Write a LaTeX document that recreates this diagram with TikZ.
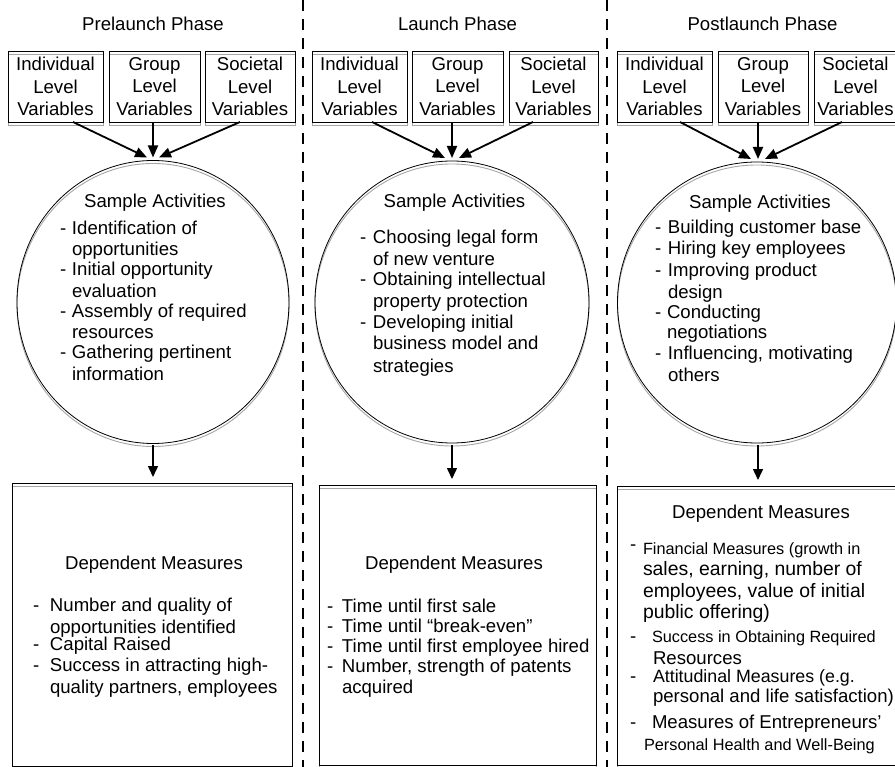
\documentclass[tikz,border=0pt]{standalone}
\usepackage{fontspec}
\setmainfont{Liberation Sans}
\usetikzlibrary{arrows.meta,shapes.geometric,backgrounds}
\newcommand\fsn{\fontsize{18.6}{22.5}\selectfont}
\newcommand\fsb{\fontsize{19.4}{22}\selectfont}
\newcommand\fss{\fontsize{16.3}{20}\selectfont}
\newcommand\fsa{\fontsize{17.8}{22}\selectfont}
\newcommand\bl[1]{\makebox[#1][l]{-}}
\newcommand\shrect[1]{\draw[shline] ([yshift=-3pt]#1.north west) rectangle ([yshift=-3pt]#1.south east);}
\begin{document}
\begin{tikzpicture}[x=1pt,y=-1pt,
  txt/.style={inner sep=0pt, outer sep=0pt, anchor=base west, font=\fsn},
  ctr/.style={inner sep=0pt, outer sep=0pt, anchor=base, font=\fsn},
  shline/.style={draw=black!35, line width=0.9pt},
  varbox/.style={draw, line width=0.8pt, align=center, font=\fsn, inner sep=0pt, outer sep=0pt, minimum height=71pt},
  actell/.style={draw, ellipse, line width=0.8pt, inner sep=0pt, outer sep=0pt},
  depbox/.style={draw, line width=0.8pt, inner sep=0pt, outer sep=0pt},
  conv/.style={line width=1.8pt, -{Triangle[length=12pt,width=10pt]}},
  down/.style={line width=1.5pt, -{Triangle[length=11pt,width=10pt]}},
  divider/.style={line width=2.7pt, dash pattern=on 11pt off 8pt}]
\useasboundingbox (0,0) rectangle (895,767);
\clip (0,0) rectangle (895,767);

% dividers
\coordinate (s1t) at (303,0); \coordinate (s1b) at (303,767);
\coordinate (s2t) at (607,0); \coordinate (s2b) at (607,767);
\draw[divider] (s1t) -- (s1b);
\draw[divider] (s2t) -- (s2b);

% headers
\node[ctr] (h1) at (153,31) {Prelaunch Phase};
\node[ctr] (h2) at (457.5,31) {Launch Phase};
\node[ctr] (h3) at (762.5,31) {Postlaunch Phase};

% variable boxes
\node[varbox, minimum width=95pt] (b11) at (55.5,86.5) {Individual\\Level\\Variables};
\node[varbox, minimum width=91pt] (b12) at (154.5,86.5) {Group\\Level\\Variables};
\node[varbox, minimum width=90pt] (b13) at (250,86.5) {Societal\\Level\\Variables};
\node[varbox, minimum width=95pt] (b21) at (359.5,86.5) {Individual\\Level\\Variables};
\node[varbox, minimum width=91pt] (b22) at (457.5,86.5) {Group\\Level\\Variables};
\node[varbox, minimum width=89pt] (b23) at (553.5,86.5) {Societal\\Level\\Variables};
\node[varbox, minimum width=95pt] (b31) at (664.5,86.5) {Individual\\Level\\Variables};
\node[varbox, minimum width=90pt] (b32) at (763,86.5) {Group\\Level\\Variables};
\node[varbox, minimum width=83pt] (b33) at (855.5,86.5) {Societal\\Level\\Variables};

% activity ellipses
\node[actell, minimum width=272pt, minimum height=283pt] (c1) at (153,302) {};
\node[actell, minimum width=274pt, minimum height=282pt] (c2) at (452,302) {};
\node[actell, minimum width=279pt, minimum height=281pt] (c3) at (757,302.5) {};

% dependent boxes
\node[depbox, minimum width=280pt, minimum height=283pt] (d1) at (152,624.5) {};
\node[depbox, minimum width=277pt, minimum height=280pt] (d2) at (457.5,625) {};
\node[depbox, minimum width=282pt, minimum height=279pt] (d3) at (758,625.5) {};

% grey offset outlines behind the shapes
\begin{scope}[on background layer]
\shrect{b11}\shrect{b12}\shrect{b13}
\shrect{b21}\shrect{b22}\shrect{b23}
\shrect{b31}\shrect{b32}\shrect{b33}
\shrect{d1}\shrect{d2}\shrect{d3}
\draw[shline] ([yshift=-3pt]c1.center) ellipse [x radius=136pt, y radius=141.5pt];
\draw[shline] ([yshift=-3pt]c2.center) ellipse [x radius=137pt, y radius=141pt];
\draw[shline] ([yshift=-3pt]c3.center) ellipse [x radius=139.5pt, y radius=140.5pt];
\end{scope}

% converging arrows
\draw[conv] ([xshift=17.5pt]b11.south) -- ([xshift=-6pt,yshift=3pt]c1.north);
\draw[conv] ([xshift=-1.5pt]b12.south) -- ([yshift=3pt]c1.north);
\draw[conv] ([xshift=-10pt]b13.south) -- ([xshift=6pt,yshift=3pt]c1.north);
\draw[conv] ([xshift=12.5pt]b21.south) -- ([xshift=-7pt,yshift=3pt]c2.north);
\draw[conv] ([xshift=-5.5pt]b22.south) -- ([yshift=3pt]c2.north);
\draw[conv] ([xshift=-20.5pt]b23.south) -- ([xshift=7pt,yshift=3pt]c2.north);
\draw[conv] ([xshift=15.5pt]b31.south) -- ([xshift=-6pt,yshift=3pt]c3.north);
\draw[conv] ([xshift=-5pt]b32.south) -- ([xshift=1pt,yshift=3pt]c3.north);
\draw[conv] ([xshift=-13.5pt]b33.south) -- ([xshift=8pt,yshift=3pt]c3.north);

% down arrows
\coordinate (e1) at (c1.south |- d1.north);
\draw[down] ([yshift=-2pt]c1.south) -- ([yshift=6pt]e1);
\coordinate (e2) at (c2.south |- d2.north);
\draw[down] ([yshift=-2pt]c2.south) -- ([yshift=6pt]e2);
\coordinate (f3) at ([xshift=1pt,yshift=-2pt]c3.south);
\coordinate (e3) at (f3 |- d3.north);
\draw[down] (f3) -- ([yshift=6pt]e3);

% ellipse 1 text
\node[ctr] (c1h) at (155,208) {Sample Activities};
\node[txt] (c1l1) at (60,235) {\bl{12pt}Identification of};
\node[txt] (c1l2) at (72,256) {opportunities};
\node[txt] (c1l3) at (60,276) {\bl{12pt}Initial opportunity};
\node[txt] (c1l4) at (72,298) {evaluation};
\node[txt] (c1l5) at (60,318) {\bl{12pt}Assembly of required};
\node[txt] (c1l6) at (72,339) {resources};
\node[txt] (c1l7) at (60,359) {\bl{12pt}Gathering pertinent};
\node[txt] (c1l8) at (72,381) {information};

% ellipse 2 text
\node[ctr] (c2h) at (454.5,208) {Sample Activities};
\node[txt] (c2l1) at (360,244) {\bl{13pt}Choosing legal form};
\node[txt] (c2l2) at (373,266) {of new venture};
\node[txt] (c2l3) at (360,286) {\bl{13pt}Obtaining intellectual};
\node[txt] (c2l4) at (373,308) {property protection};
\node[txt] (c2l5) at (360,329) {\bl{13pt}Developing initial};
\node[txt] (c2l6) at (373,350) {business model and};
\node[txt] (c2l7) at (373,373) {strategies};

% ellipse 3 text
\node[ctr] (c3h) at (760,209) {Sample Activities};
\node[txt] (c3l1) at (655,234) {\bl{13pt}Building customer base};
\node[txt] (c3l2) at (655,255) {\bl{13pt}Hiring key employees};
\node[txt] (c3l3) at (655,277) {\bl{13pt}Improving product};
\node[txt] (c3l4) at (668,299) {design};
\node[txt] (c3l5) at (655,319) {\bl{12pt}Conducting};
\node[txt] (c3l6) at (667,339) {negotiations};
\node[txt] (c3l7) at (655,360) {\bl{13pt}Influencing, motivating};
\node[txt] (c3l8) at (668,382) {others};

% dependent 1 text
\node[ctr] (d1h) at (154,569) {Dependent Measures};
\node[txt] (d1l1) at (33,611) {\bl{17pt}Number and quality of};
\node[txt] (d1l2) at (50,633) {opportunities identified};
\node[txt] (d1l3) at (33,650) {\bl{17pt}Capital Raised};
\node[txt] (d1l4) at (33,671) {\bl{17pt}Success in attracting high-};
\node[txt] (d1l5) at (50,693) {quality partners, employees};

% dependent 2 text
\node[ctr] (d2h) at (454,569) {Dependent Measures};
\node[txt] (d2l1) at (327,612) {\bl{15pt}Time until first sale};
\node[txt] (d2l2) at (327,632) {\bl{15pt}Time until “break-even”};
\node[txt] (d2l3) at (327,652) {\bl{15pt}Time until first employee hired};
\node[txt] (d2l4) at (327,672) {\bl{15pt}Number, strength of patents};
\node[txt] (d2l5) at (342,693) {acquired};

% dependent 3 text
\node[ctr] (d3h) at (761,518) {Dependent Measures};
\node[txt] (d3a0) at (630,550) {-};
\node[txt,font=\fss] (d3a1) at (643,554) {Financial Measures (growth in};
\node[txt,font=\fsb] (d3a2) at (643,575) {sales, earning, number of};
\node[txt,font=\fsb] (d3a3) at (643,597) {employees, value of initial};
\node[txt,font=\fsb] (d3a4) at (643,618) {public offering)};
\node[txt] (d3b0) at (630,642) {-};
\node[txt,font=\fss] (d3b1) at (652,642) {Success in Obtaining Required};
\node[txt] (d3b2) at (653,664) {Resources};
\node[txt] (d3c0) at (630,682) {-};
\node[txt,font=\fsa] (d3c1) at (653,682) {Attitudinal Measures (e.g.};
\node[txt] (d3c2) at (653,702) {personal and life satisfaction)};
\node[txt] (d3d0) at (630,728) {-};
\node[txt] (d3d1) at (652,728) {Measures of Entrepreneurs’};
\node[txt,font=\fss] (d3d2) at (644,750) {Personal Health and Well-Being};
\end{tikzpicture}
\end{document}
